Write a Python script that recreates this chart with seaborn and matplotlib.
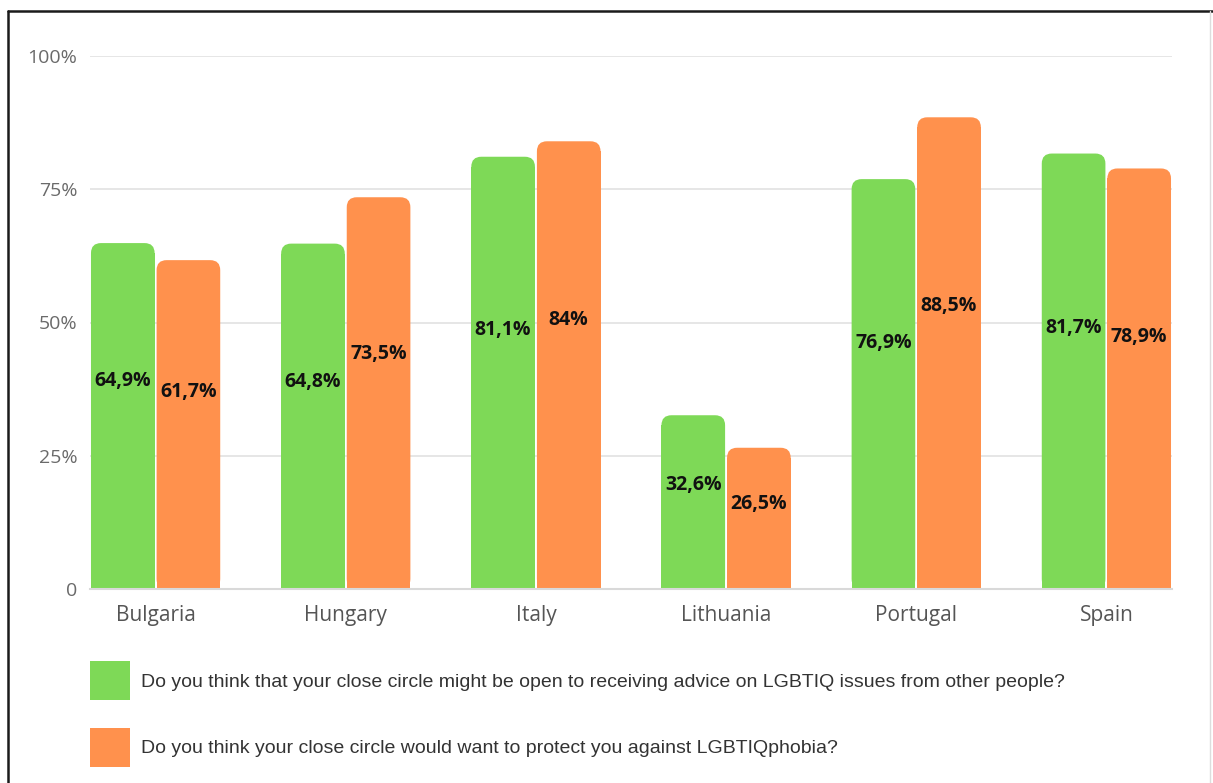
import matplotlib
matplotlib.use("Agg")
import matplotlib.pyplot as plt
import seaborn as sns
import pandas as pd
from matplotlib.patches import FancyBboxPatch, Rectangle
from matplotlib.lines import Line2D

# ---- data ----
countries = ["Bulgaria", "Hungary", "Italy", "Lithuania", "Portugal", "Spain"]
series_names = [
    "Do you think that your close circle might be open to receiving advice on LGBTIQ issues from other people?",
    "Do you think your close circle would want to protect you against LGBTIQphobia?",
]
open_advice = [64.9, 64.8, 81.1, 32.6, 76.9, 81.7]
protect = [61.7, 73.5, 84.0, 26.5, 88.5, 78.9]
y_ticks = [0, 25, 50, 75, 100]
y_tick_labels = ["0", "25%", "50%", "75%", "100%"]

GREEN = "#7ED957"
ORANGE = "#FF914D"

df = pd.DataFrame({
    "country": countries * 2,
    "value": open_advice + protect,
    "question": [series_names[0]] * len(countries) + [series_names[1]] * len(countries),
})

sns.set_theme(style="white")
plt.rcParams["font.family"] = ["Open Sans", "DejaVu Sans"]

W, H = 1213, 783
fig = plt.figure(figsize=(W / 100, H / 100), dpi=100)
ax = fig.add_axes([90 / W, 1 - 589 / H, (1172 - 90) / W, (589 - 56) / H])

sns.barplot(data=df, x="country", y="value", hue="question",
            palette=[GREEN, ORANGE], saturation=1, width=0.69, gap=0.03,
            ax=ax, legend=True, errorbar=None)

handles, labels = ax.get_legend_handles_labels()
if ax.get_legend() is not None:
    ax.get_legend().remove()

ax.set_xlim(-0.345, len(countries) - 1 + 0.345)
ax.set_ylim(0, 100)
ax.set_yticks(y_ticks)
ax.set_yticklabels(y_tick_labels)
ax.set_xlabel("")
ax.set_ylabel("")
ax.yaxis.grid(True, color="#e2e2e2", lw=1.2)
ax.set_axisbelow(True)
for s in ["top", "right", "left"]:
    ax.spines[s].set_visible(False)
ax.spines["bottom"].set_color("#d9d9d9")
ax.spines["bottom"].set_linewidth(1.5)
ax.tick_params(axis="y", length=0, pad=9, labelsize=14, labelcolor="#6a6a6a")
ax.tick_params(axis="x", length=0, pad=11.5, labelsize=15, labelcolor="#555555")

# rounded-top bars derived from seaborn's patches
p0 = ax.transData.transform((0, 0))
p1 = ax.transData.transform((1, 1))
px_x = p1[0] - p0[0]
px_y = p1[1] - p0[1]
r_px = 10
r_x = r_px / px_x
r_y = r_px / px_y

bars = [p for p in ax.patches if p.get_height() > 0]
for p in bars:
    x, w, h = p.get_x(), p.get_width(), p.get_height()
    fc = p.get_facecolor()
    p.set_visible(False)
    ax.add_patch(FancyBboxPatch((x, 0), w, h,
                                boxstyle=f"round,pad=0,rounding_size={r_x}",
                                mutation_aspect=r_y / r_x, fc=fc, ec="none", zorder=2))
    ax.add_patch(Rectangle((x, 0), w, h - r_y, fc=fc, ec="none", zorder=2))
    lab = f"{h:g}".replace(".", ",") + "%"
    ax.text(x + w / 2, h * 0.6, lab, ha="center", va="center",
            fontsize=14, fontweight="bold", color="#111111", zorder=3)

# legend
fs = 14
fpx = fs * 100 / 72
leg = fig.legend(handles, labels, loc="upper left",
                 bbox_to_anchor=(90 / W, 1 - 661 / H), bbox_transform=fig.transFigure,
                 frameon=False, prop={"family": "Liberation Sans", "size": fs},
                 handlelength=40 / fpx, handleheight=40 / fpx * 4 / 3,
                 handletextpad=11 / fpx, labelspacing=27.5 / fpx,
                 borderpad=0, borderaxespad=0)
for t in leg.get_texts():
    t.set_color("#333333")
for h in leg.legend_handles:
    h.set_edgecolor("none")

# frame border
fig.add_artist(Line2D([8 / W, 8 / W], [0, 1 - 11 / H], transform=fig.transFigure,
                      color="#1a1a1a", lw=1.8))
fig.add_artist(Line2D([8 / W, 1], [1 - 11 / H, 1 - 11 / H], transform=fig.transFigure,
                      color="#1a1a1a", lw=1.8))
fig.add_artist(Line2D([1210 / W, 1210 / W], [0, 1 - 11 / H], transform=fig.transFigure,
                      color="#dddddd", lw=1))

fig.savefig("out.png", dpi=100)
